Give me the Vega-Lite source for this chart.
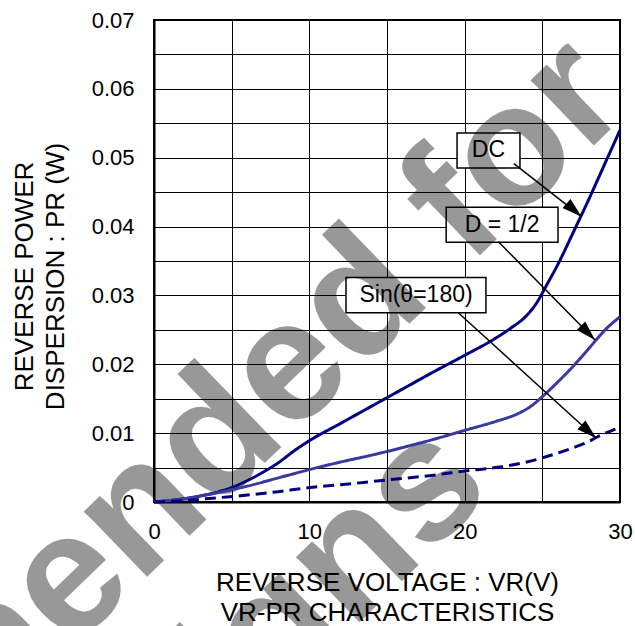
{
  "$schema": "https://vega.github.io/schema/vega-lite/v6.json",
  "width": 466,
  "height": 482,
  "autosize": {"type": "none"},
  "padding": {"left": 154, "top": 20, "right": 15, "bottom": 124},
  "background": "white",
  "config": {
    "font": "Liberation Sans",
    "view": {"stroke": "black", "strokeWidth": 2},
    "axis": {
      "domainColor": "black", "domainWidth": 2,
      "gridColor": "black", "gridOpacity": 1, "gridWidth": 1,
      "ticks": false,
      "labelColor": "black", "labelFont": "Liberation Sans", "labelFontSize": 22,
      "titleFont": "Liberation Sans", "titleFontSize": 26, "titleFontWeight": "normal", "titleColor": "black"
    }
  },
  "datasets": {
    "curves": [
      {"series": "DC", "v": 0, "p": 0},
      {"series": "DC", "v": 1, "p": 0.0002},
      {"series": "DC", "v": 2, "p": 0.0005},
      {"series": "DC", "v": 3, "p": 0.0009},
      {"series": "DC", "v": 4, "p": 0.0014},
      {"series": "DC", "v": 5, "p": 0.0021},
      {"series": "DC", "v": 6, "p": 0.0031},
      {"series": "DC", "v": 7, "p": 0.0043},
      {"series": "DC", "v": 8, "p": 0.0057},
      {"series": "DC", "v": 9, "p": 0.0074},
      {"series": "DC", "v": 10, "p": 0.0089},
      {"series": "DC", "v": 12, "p": 0.0114},
      {"series": "DC", "v": 14, "p": 0.0139},
      {"series": "DC", "v": 16, "p": 0.0164},
      {"series": "DC", "v": 18, "p": 0.0189},
      {"series": "DC", "v": 20, "p": 0.0213},
      {"series": "DC", "v": 22, "p": 0.0238},
      {"series": "DC", "v": 23, "p": 0.0253},
      {"series": "DC", "v": 24, "p": 0.0271},
      {"series": "DC", "v": 24.6, "p": 0.0288},
      {"series": "DC", "v": 25.3, "p": 0.0316},
      {"series": "DC", "v": 26, "p": 0.0345},
      {"series": "DC", "v": 27, "p": 0.0392},
      {"series": "DC", "v": 28, "p": 0.044},
      {"series": "DC", "v": 29, "p": 0.049},
      {"series": "DC", "v": 30, "p": 0.054},
      {"series": "D = 1/2", "v": 0, "p": 0},
      {"series": "D = 1/2", "v": 2, "p": 0.0005},
      {"series": "D = 1/2", "v": 4, "p": 0.0013},
      {"series": "D = 1/2", "v": 5, "p": 0.0018},
      {"series": "D = 1/2", "v": 6, "p": 0.0023},
      {"series": "D = 1/2", "v": 8, "p": 0.0035},
      {"series": "D = 1/2", "v": 10, "p": 0.0047},
      {"series": "D = 1/2", "v": 12, "p": 0.0058},
      {"series": "D = 1/2", "v": 14, "p": 0.0068},
      {"series": "D = 1/2", "v": 16, "p": 0.0079},
      {"series": "D = 1/2", "v": 18, "p": 0.0091},
      {"series": "D = 1/2", "v": 20, "p": 0.0104},
      {"series": "D = 1/2", "v": 22, "p": 0.0117},
      {"series": "D = 1/2", "v": 23.4, "p": 0.0128},
      {"series": "D = 1/2", "v": 24.2, "p": 0.0138},
      {"series": "D = 1/2", "v": 25, "p": 0.0153},
      {"series": "D = 1/2", "v": 25.8, "p": 0.017},
      {"series": "D = 1/2", "v": 26.6, "p": 0.0188},
      {"series": "D = 1/2", "v": 27.5, "p": 0.021},
      {"series": "D = 1/2", "v": 28.3, "p": 0.0231},
      {"series": "D = 1/2", "v": 29, "p": 0.0249},
      {"series": "D = 1/2", "v": 30, "p": 0.0269},
      {"series": "Sin(θ=180)", "v": 0, "p": 0},
      {"series": "Sin(θ=180)", "v": 2, "p": 0.0002},
      {"series": "Sin(θ=180)", "v": 4, "p": 0.0006},
      {"series": "Sin(θ=180)", "v": 6, "p": 0.001},
      {"series": "Sin(θ=180)", "v": 8, "p": 0.0015},
      {"series": "Sin(θ=180)", "v": 10, "p": 0.0021},
      {"series": "Sin(θ=180)", "v": 12, "p": 0.0025},
      {"series": "Sin(θ=180)", "v": 15, "p": 0.0032},
      {"series": "Sin(θ=180)", "v": 18, "p": 0.0039},
      {"series": "Sin(θ=180)", "v": 20, "p": 0.0045},
      {"series": "Sin(θ=180)", "v": 22, "p": 0.005},
      {"series": "Sin(θ=180)", "v": 24, "p": 0.0058},
      {"series": "Sin(θ=180)", "v": 25, "p": 0.0064},
      {"series": "Sin(θ=180)", "v": 26, "p": 0.0071},
      {"series": "Sin(θ=180)", "v": 27, "p": 0.0079},
      {"series": "Sin(θ=180)", "v": 28, "p": 0.0088},
      {"series": "Sin(θ=180)", "v": 28.5, "p": 0.0094},
      {"series": "Sin(θ=180)", "v": 29.7, "p": 0.0106}
    ],
    "arrows": [
      {"name": "DC", "v": 27.53, "p": 0.04144, "v2": 23.17, "p2": 0.04915},
      {"name": "D = 1/2", "v": 28.39, "p": 0.02353, "v2": 22.17, "p2": 0.03781},
      {"name": "Sin(θ=180)", "v": 28.47, "p": 0.00925, "v2": 19.59, "p2": 0.02749}
    ],
    "boxes": [
      {"name": "DC", "v": 19.51, "v2": 23.56, "p": 0.0536, "p2": 0.0485},
      {"name": "D = 1/2", "v": 18.81, "v2": 26.01, "p": 0.04281, "p2": 0.03773},
      {"name": "Sin(θ=180)", "v": 12.36, "v2": 21.37, "p": 0.0326, "p2": 0.0275}
    ],
    "labels": [
      {"name": "DC", "v": 21.53, "p": 0.0511},
      {"name": "D = 1/2", "v": 22.41, "p": 0.04027},
      {"name": "Sin(θ=180)", "v": 16.87, "p": 0.03005}
    ],
    "watermark": [
      {"text": "Not Recommended for", "v": -11.85, "p": -0.0357},
      {"text": "New Designs", "v": -2.83, "p": -0.0524}
    ]
  },
  "encoding": {
    "x": {
      "field": "v", "type": "quantitative",
      "scale": {"domain": [0, 30], "nice": false, "zero": false},
      "axis": {
        "values": [0, 5, 10, 15, 20, 25, 30],
        "labelExpr": "datum.value % 10 == 0 ? datum.label : ''",
        "labelPadding": 19, "labelFlush": false, "labelOverlap": false,
        "title": ["REVERSE VOLTAGE : VR(V)", "VR-PR CHARACTERISTICS"],
        "titleBaseline": "alphabetic", "titleY": 88, "titleLineHeight": 30
      }
    },
    "y": {
      "field": "p", "type": "quantitative",
      "scale": {"domain": [0, 0.07], "nice": false, "zero": false},
      "axis": {
        "values": [0, 0.005, 0.01, 0.015, 0.02, 0.025, 0.03, 0.035, 0.04, 0.045, 0.05, 0.055, 0.06, 0.065, 0.07],
        "labelExpr": "round(datum.value * 200) % 2 == 0 ? format(datum.value, '.2~f') : ''",
        "labelPadding": 20, "labelFlush": false, "labelOverlap": false,
        "title": ["REVERSE POWER", "DISPERSION : PR (W)"],
        "titleAngle": -90, "titleAlign": "center", "titleBaseline": "alphabetic",
        "titleX": -122, "titleY": 256, "titleLineHeight": 31
      }
    }
  },
  "layer": [
    {
      "data": {"name": "boxes"},
      "mark": {"type": "rect", "fill": "white", "stroke": "black", "strokeWidth": 1.5},
      "encoding": {"x2": {"field": "v2"}, "y2": {"field": "p2"}}
    },
    {
      "data": {"name": "watermark"},
      "mark": {"type": "text", "font": "Liberation Sans", "fontSize": 172, "fontWeight": "bold", "color": "black", "opacity": 0.4, "angle": -44, "align": "center", "baseline": "alphabetic"},
      "encoding": {"text": {"field": "text"}}
    },
    {
      "data": {"name": "curves"},
      "mark": {"type": "line", "strokeWidth": 3, "interpolate": "monotone"},
      "encoding": {
        "color": {"field": "series", "type": "nominal", "legend": null,
          "scale": {"domain": ["DC", "D = 1/2", "Sin(θ=180)"], "range": ["#000080", "#3a3a9e", "#000080"]}},
        "strokeDash": {"field": "series", "type": "nominal", "legend": null,
          "scale": {"domain": ["DC", "D = 1/2", "Sin(θ=180)"], "range": [[1, 0], [1, 0], [11, 6]]}}
      }
    },
    {
      "data": {"name": "arrows"},
      "mark": {"type": "rule", "color": "black", "strokeWidth": 1.5},
      "encoding": {"x2": {"field": "v2"}, "y2": {"field": "p2"}}
    },
    {
      "data": {"name": "arrows"},
      "transform": [{"filter": "datum.name == 'DC'"}],
      "mark": {"type": "point", "shape": "M0,0L0.6,2L-0.6,2Z", "filled": true, "size": 400, "color": "black", "opacity": 1, "angle": 131},
      "encoding": {}
    },
    {
      "data": {"name": "arrows"},
      "transform": [{"filter": "datum.name == 'D = 1/2'"}],
      "mark": {"type": "point", "shape": "M0,0L0.6,2L-0.6,2Z", "filled": true, "size": 400, "color": "black", "opacity": 1, "angle": 135.5},
      "encoding": {}
    },
    {
      "data": {"name": "arrows"},
      "transform": [{"filter": "datum.name == 'Sin(θ=180)'"}],
      "mark": {"type": "point", "shape": "M0,0L0.6,2L-0.6,2Z", "filled": true, "size": 400, "color": "black", "opacity": 1, "angle": 132.4},
      "encoding": {}
    },
    {
      "data": {"name": "labels"},
      "mark": {"type": "text", "fontSize": 23, "color": "black", "align": "center", "baseline": "middle"},
      "encoding": {"text": {"field": "name"}}
    }
  ]
}
